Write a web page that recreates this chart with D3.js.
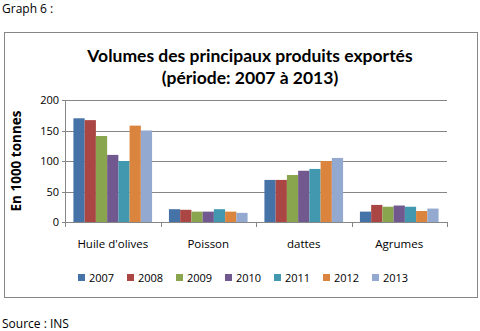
<!DOCTYPE html>
<html><head><meta charset="utf-8">
<script src="https://cdn.jsdelivr.net/npm/d3@7"></script>
<style>body{margin:0;background:#fff}svg{display:block}</style>
</head><body>
<script>
const categories = ["Huile d'olives", "Poisson", "dattes", "Agrumes"];
const years = ["2007","2008","2009","2010","2011","2012","2013"];
const v2007 = [170, 21, 69, 17];
const v2008 = [167, 20, 69, 28];
const v2009 = [141, 17, 77, 25];
const v2010 = [110, 17, 84, 27];
const v2011 = [100, 21, 87, 25];
const v2012 = [158, 17, 100, 18];
const v2013 = [150, 15, 105, 22];
const yTicks = [0, 50, 100, 150, 200];
const colors = ["#4572A7","#AA4643","#89A54E","#71588F","#4198AF","#DB843D","#93A9CF"];
const seriesVals = [v2007, v2008, v2009, v2010, v2011, v2012, v2013];

const W = 480, H = 331;
const font = "'Open Sans', 'Liberation Sans', sans-serif";
const svg = d3.select("body").append("svg").attr("width", W).attr("height", H)
  .style("font-family", font);

svg.append("text").attr("x", 2).attr("y", 13).attr("font-size", 12).attr("fill", "#000").text("Graph 6 :");
svg.append("text").attr("x", 2).attr("y", 328).attr("font-size", 12).attr("fill", "#000").text("Source : INS");

svg.append("rect").attr("x", 4.5).attr("y", 32.5).attr("width", 473).attr("height", 265)
  .attr("fill", "#fff").attr("stroke", "#868686").attr("stroke-width", 1);

svg.append("text").attr("x", 250).attr("y", 62).attr("text-anchor", "middle")
  .attr("font-size", 17.5).attr("font-weight", "bold").attr("font-family", "Lato, sans-serif")
  .text("Volumes des principaux produits exportés");
svg.append("text").attr("x", 250).attr("y", 84).attr("text-anchor", "middle")
  .attr("font-size", 17.5).attr("font-weight", "bold").attr("font-family", "Lato, sans-serif")
  .text("(période: 2007 à 2013)");

const x0 = 65, x1 = 447, yTop = 100, yBot = 222;
const x = d3.scaleBand().domain(categories).range([x0, x1]).paddingInner(0).paddingOuter(0);
// 7 bars per group, with a gap of 1.5 bar widths split on both sides
const bw = x.bandwidth() / 8.5;
const y = d3.scaleLinear().domain([0, 200]).range([yBot, yTop]);

// gridlines
svg.append("g").selectAll("line").data(yTicks).join("line")
  .attr("x1", x0 - 3).attr("x2", x1)
  .attr("y1", d => Math.round(y(d)) + 0.5).attr("y2", d => Math.round(y(d)) + 0.5)
  .attr("stroke", "#868686").attr("stroke-width", 1);

// y axis line
svg.append("line").attr("x1", x0 + 0.5).attr("x2", x0 + 0.5).attr("y1", yTop).attr("y2", yBot + 0.5)
  .attr("stroke", "#868686");

// y tick labels
svg.append("g").selectAll("text").data(yTicks).join("text")
  .attr("x", x0 - 6).attr("y", d => y(d) + 4).attr("text-anchor", "end")
  .attr("font-size", 11).attr("fill", "#000").text(d => d);

// x ticks
const xTickPos = categories.map(c => x(c)).concat([x1]);
svg.append("g").selectAll("line").data(xTickPos).join("line")
  .attr("x1", d => Math.round(d) + 0.5).attr("x2", d => Math.round(d) + 0.5)
  .attr("y1", yBot).attr("y2", yBot + 5).attr("stroke", "#868686");

// bars
categories.forEach((c, ci) => {
  seriesVals.forEach((vals, si) => {
    svg.append("rect")
      .attr("x", x(c) + bw * 0.75 + si * bw)
      .attr("width", bw)
      .attr("y", y(vals[ci]))
      .attr("height", yBot - y(vals[ci]))
      .attr("fill", colors[si]);
  });
});

// category labels
svg.append("g").selectAll("text").data(categories).join("text")
  .attr("x", d => x(d) + x.bandwidth() / 2).attr("y", 248).attr("text-anchor", "middle")
  .attr("font-size", 11.5).attr("fill", "#000").text(d => d);

// y title
svg.append("text").attr("transform", "translate(21,161) rotate(-90)").attr("text-anchor", "middle")
  .attr("font-size", 13.5).attr("font-weight", "bold").text("En 1000 tonnes");

// legend
const lg = svg.append("g");
years.forEach((yr, i) => {
  const lx = 78 + i * 49;
  lg.append("rect").attr("x", lx).attr("y", 274).attr("width", 7).attr("height", 7).attr("fill", colors[i]);
  lg.append("text").attr("x", lx + 11).attr("y", 281.5).attr("font-size", 11).attr("fill", "#000").text(yr);
});
</script>
</body></html>
